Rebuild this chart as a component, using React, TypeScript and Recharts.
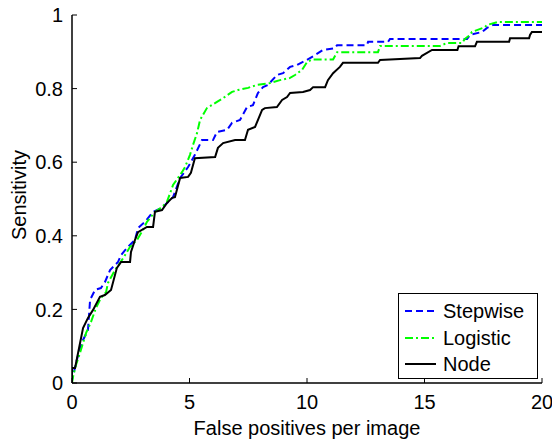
import React from 'react';
import { LineChart, Line, XAxis, YAxis, Legend, Label } from 'recharts';

const xTicks = [0, 5, 10, 15, 20];
const yTicks = [0, 0.2, 0.4, 0.6, 0.8, 1];
const seriesNames = ['Stepwise', 'Logistic', 'Node'];
const seriesColors = ['#0000ff', '#00ff00', '#000000'];

// [false positives per image, sensitivity]
const stepwise: [number, number][] = [
  [0, 0], [0, 0.008], [0.13, 0.043], [0.26, 0.076], [0.47, 0.117], [0.68, 0.144],
  [0.77, 0.226], [0.98, 0.253], [1.23, 0.258], [1.4, 0.274], [1.62, 0.307],
  [1.96, 0.329], [2.09, 0.348], [2.34, 0.367], [2.68, 0.389], [2.81, 0.421],
  [3.11, 0.438], [3.45, 0.465], [3.87, 0.478], [4.04, 0.489], [4.3, 0.505],
  [4.6, 0.557], [4.94, 0.587], [5.23, 0.62], [5.53, 0.66], [6.0, 0.66],
  [6.17, 0.682], [6.6, 0.688], [6.81, 0.707], [7.15, 0.715], [7.45, 0.75],
  [7.7, 0.755], [7.91, 0.788], [8.13, 0.804], [8.34, 0.81], [8.72, 0.837],
  [8.98, 0.842], [9.28, 0.859], [9.57, 0.864], [10.0, 0.878], [10.34, 0.891],
  [10.68, 0.905], [11.19, 0.91], [11.28, 0.918], [12.55, 0.918], [12.6, 0.927],
  [13.45, 0.927], [13.53, 0.935], [16.81, 0.935], [16.94, 0.946], [17.45, 0.954],
  [17.66, 0.965], [17.91, 0.973], [20, 0.973],
];

const logistic: [number, number][] = [
  [0, 0], [0.04, 0.016], [0.17, 0.049], [0.34, 0.082], [0.6, 0.136], [0.81, 0.166],
  [1.02, 0.204], [1.23, 0.231], [1.45, 0.247], [1.53, 0.272], [1.83, 0.307],
  [2.04, 0.326], [2.26, 0.348], [2.47, 0.37], [2.77, 0.389], [3.02, 0.416],
  [3.19, 0.438], [3.53, 0.465], [3.83, 0.478], [4.04, 0.492], [4.3, 0.538],
  [4.68, 0.573], [4.81, 0.587], [5.02, 0.62], [5.15, 0.647], [5.32, 0.679],
  [5.45, 0.715], [5.74, 0.747], [6.17, 0.764], [6.43, 0.774], [6.81, 0.791],
  [7.06, 0.796], [7.49, 0.802], [7.87, 0.81], [8.43, 0.815], [8.85, 0.823],
  [9.28, 0.829], [9.49, 0.837], [9.79, 0.851], [10.0, 0.872], [10.21, 0.879],
  [11.11, 0.879], [11.28, 0.899], [13.02, 0.899], [13.11, 0.916], [15.66, 0.916],
  [15.96, 0.924], [16.6, 0.924], [16.72, 0.935], [16.94, 0.946], [17.02, 0.954],
  [17.57, 0.967], [17.66, 0.973], [18.13, 0.981], [20, 0.981],
];

const node: [number, number][] = [
  [0, 0], [0, 0.041], [0.13, 0.041], [0.47, 0.149], [0.68, 0.177], [0.89, 0.198],
  [1.19, 0.234], [1.4, 0.239], [1.66, 0.253], [1.91, 0.313], [2.09, 0.329],
  [2.47, 0.329], [2.51, 0.356], [2.68, 0.389], [2.81, 0.41], [3.19, 0.424],
  [3.45, 0.424], [3.53, 0.465], [3.83, 0.47], [4.04, 0.489], [4.26, 0.503],
  [4.38, 0.505], [4.6, 0.557], [4.94, 0.56], [5.06, 0.571], [5.23, 0.611],
  [6.09, 0.614], [6.21, 0.639], [6.43, 0.652], [6.94, 0.66], [7.36, 0.66],
  [7.49, 0.688], [7.79, 0.696], [8.09, 0.742], [8.21, 0.747], [8.72, 0.75],
  [8.94, 0.769], [9.15, 0.777], [9.28, 0.788], [9.83, 0.791], [10.13, 0.796],
  [10.26, 0.804], [10.77, 0.804], [10.89, 0.823], [11.11, 0.842], [11.4, 0.859],
  [11.53, 0.87], [13.02, 0.87], [13.11, 0.878], [14.81, 0.883], [14.89, 0.889],
  [15.32, 0.905], [16.4, 0.905], [16.45, 0.915], [17.15, 0.915], [17.23, 0.927],
  [18.6, 0.927], [18.64, 0.937], [19.45, 0.937], [19.49, 0.946], [19.57, 0.954],
  [20, 0.954],
];

const toData = (pts: [number, number][]) => pts.map(([fp, s]) => ({ fp, s }));

const FONT = '"Liberation Sans", Arial, Helvetica, sans-serif';
const FS = 20;

const dashes = ['7 4', '8 3 2 3', undefined];

const LegendBox = () => (
  <div
    style={{
      boxSizing: 'border-box',
      width: 140,
      height: 86,
      border: '1px solid #000',
      background: '#fff',
      position: 'relative',
      fontFamily: FONT,
      fontSize: FS,
    }}
  >
    {seriesNames.map((name, i) => (
      <div
        key={name}
        style={{ position: 'absolute', left: 0, top: 4 + i * 26.5, height: 26, width: 138, display: 'flex', alignItems: 'center' }}
      >
        <svg width={44} height={26} style={{ display: 'block' }}>
          <line
            x1={6}
            x2={37}
            y1={13}
            y2={13}
            stroke={seriesColors[i]}
            strokeWidth={2}
            strokeDasharray={dashes[i]}
          />
        </svg>
        <span style={{ lineHeight: '26px', color: '#000' }}>{name}</span>
      </div>
    ))}
  </div>
);

const YLabel = (props: any) => {
  const vb = props.viewBox || { x: 0, y: 15, width: 72, height: 368 };
  const cx = vb.x + 19;
  const cy = vb.y + vb.height / 2 - 4;
  return (
    <text
      x={cx}
      y={cy}
      transform={`rotate(-90 ${cx} ${cy})`}
      textAnchor="middle"
      dominantBaseline="central"
      fontFamily={FONT}
      fontSize={FS}
      fill="#000"
    >
      Sensitivity
    </text>
  );
};

export default function App() {
  const tickStyle = { fontSize: FS, fill: '#000', fontFamily: FONT };
  const hiddenTick = { fontSize: FS, fill: 'none' };
  return (
    <div style={{ position: 'absolute', left: 0, top: 0, width: 552, height: 439, background: '#fff', fontFamily: FONT }}>
      <LineChart width={552} height={439} margin={{ top: 15, right: 10, left: 0, bottom: 0 }}>
        <XAxis
          dataKey="fp"
          type="number"
          domain={[0, 20]}
          ticks={xTicks}
          allowDataOverflow
          height={56}
          tickSize={-5}
          tickMargin={17}
          tick={tickStyle}
          axisLine={{ stroke: '#000', strokeWidth: 1.5 }}
          tickLine={{ stroke: '#000' }}
        >
          <Label value="False positives per image" position="insideBottom" offset={4} fontSize={FS} fill="#000" fontFamily={FONT} />
        </XAxis>
        <XAxis
          xAxisId="top"
          orientation="top"
          type="number"
          domain={[0, 20]}
          ticks={xTicks}
          allowDataOverflow
          height={0}
          tickSize={-5}
          tick={hiddenTick}
          axisLine={{ stroke: '#333', strokeWidth: 1 }}
          tickLine={{ stroke: '#333' }}
        />
        <YAxis
          type="number"
          domain={[0, 1]}
          ticks={yTicks}
          allowDataOverflow
          width={72}
          tickSize={-5}
          tickMargin={14}
          tick={tickStyle}
          axisLine={{ stroke: '#000', strokeWidth: 1.5 }}
          tickLine={{ stroke: '#000' }}
        >
          <Label content={<YLabel />} />
        </YAxis>
        <YAxis
          yAxisId="right"
          orientation="right"
          type="number"
          domain={[0, 1]}
          ticks={yTicks}
          allowDataOverflow
          width={0}
          tickSize={-5}
          tick={hiddenTick}
          axisLine={{ stroke: '#333', strokeWidth: 1 }}
          tickLine={{ stroke: '#333' }}
        />
        <Line
          data={toData(stepwise)}
          dataKey="s"
          name={seriesNames[0]}
          type="linear"
          stroke={seriesColors[0]}
          strokeWidth={2}
          strokeDasharray={dashes[0]}
          dot={false}
          activeDot={false}
          isAnimationActive={false}
        />
        <Line
          data={toData(logistic)}
          dataKey="s"
          name={seriesNames[1]}
          type="linear"
          stroke={seriesColors[1]}
          strokeWidth={2}
          strokeDasharray={dashes[1]}
          dot={false}
          activeDot={false}
          isAnimationActive={false}
        />
        <Line
          data={toData(node)}
          dataKey="s"
          name={seriesNames[2]}
          type="linear"
          stroke={seriesColors[2]}
          strokeWidth={2}
          dot={false}
          activeDot={false}
          isAnimationActive={false}
        />
        <Legend
          layout="vertical"
          align="center"
          verticalAlign="middle"
          content={<LegendBox />}
          wrapperStyle={{ left: 398, top: 293, width: 140, height: 86 }}
        />
      </LineChart>
    </div>
  );
}
